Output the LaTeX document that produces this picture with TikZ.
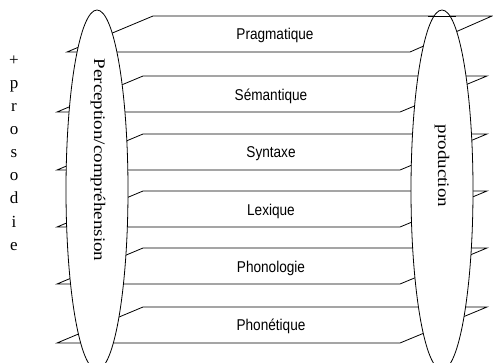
\documentclass[tikz,border=0pt]{standalone}
\usepackage{graphicx}
\usepackage{fontspec}
\setmainfont{Liberation Serif}
\newfontfamily\labelfont{Liberation Sans}
\newcommand{\tallt}[1]{\scalebox{1}[1.15]{#1}}
\begin{document}
\begin{tikzpicture}[x=1pt,y=-1pt,
  plane/.style={draw=black,line width=0.8pt,line join=miter},
  lens/.style={draw=black,fill=white,line width=0.8pt},
  lvl/.style={font=\labelfont\fontsize{13.6}{15}\selectfont,inner sep=0pt},
  vert/.style={font=\fontsize{19}{21}\selectfont,inner sep=0pt,rotate=-90}]
\useasboundingbox (0,0) rectangle (493,362);
% planes
\draw[plane] (67,52) -- (153,16) -- (492,16) -- (410,52) -- cycle;
\foreach \y in {76,134,191,248,307}{
  \draw[plane] (57,\y+36) -- (143,\y) -- (487,\y) -- (400,\y+36) -- cycle;
}
\node[lvl] (prag) at (275,35) {\tallt{Pragmatique}};
\node[lvl] (sem) at (271,96) {\tallt{Sémantique}};
\node[lvl] (syn) at (271,154) {\tallt{Syntaxe}};
\node[lvl] (lex) at (271,211) {\tallt{Lexique}};
\node[lvl] (phono) at (271,268) {\tallt{Phonologie}};
\node[lvl] (phone) at (271,326) {\tallt{Phonétique}};
% ellipses
\draw[lens] (97,190) ellipse [x radius=31, y radius=180];
\draw[lens] (442,190) ellipse [x radius=31, y radius=180];
\draw[plane] (428,16) -- (456,16);
\node[vert] (perc) at (98,160) {\scalebox{1}[0.85]{Perception/compréhension}};
\node[vert] (prod) at (442,166) {\scalebox{1}[0.85]{production}};
\node[font=\fontsize{17}{23.1}\selectfont,align=center,inner sep=0pt] (pros) at (14,153) {+\\p\\r\\o\\s\\o\\d\\i\\e};
\end{tikzpicture}
\end{document}
